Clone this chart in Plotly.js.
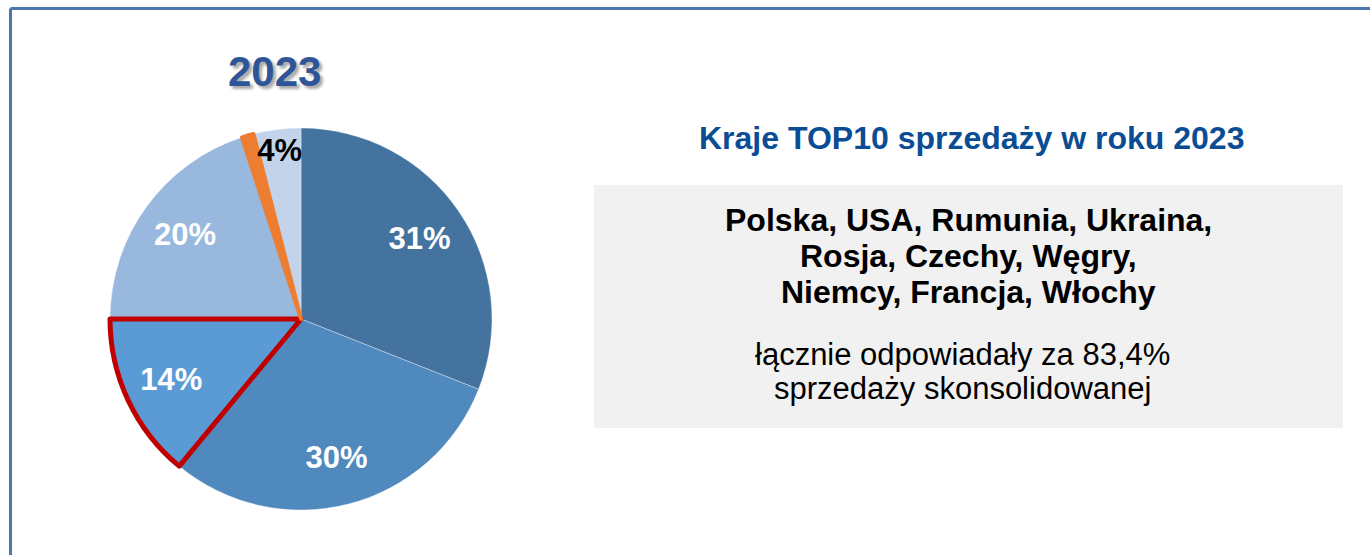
<!DOCTYPE html>
<html>
<head>
<meta charset="utf-8">
<script src="https://cdn.plot.ly/plotly-3.0.1.min.js"></script>
<style>html,body{margin:0;padding:0;background:#fff;}#chart{width:1370px;height:555px;}</style>
</head>
<body>
<div id="chart"></div>
<script>
// ---- data ----
var sliceNames = ["Kraj A", "Kraj B", "Kraj C", "Kraj D", "Kraj E", "Pozostałe"];
var sliceValues = [31, 30, 14, 20, 1, 4];
var sliceLabels = ["31%", "30%", "14%", "20%", "", "4%"];
var sliceColors = ["#44739f", "#4f89bd", "#5b9bd5", "#98b8de", "#ed7d31", "#c3d3ea"];
var labelColors = ["#ffffff", "#ffffff", "#ffffff", "#ffffff", "#ffffff", "#000000"];
var highlightColors = ["rgba(0,0,0,0)", "rgba(0,0,0,0)", "#c00000", "rgba(0,0,0,0)", "#ed7d31", "rgba(0,0,0,0)"];
var highlightWidths = [0, 0, 5, 0, 4, 0];

var yearTitle = "2023";
var sideTitle = "Kraje TOP10 sprzedaży w roku 2023";
var countryLines = ["Polska, USA, Rumunia, Ukraina,", "Rosja, Czechy, Węgry,", "Niemcy, Francja, Włochy"];
var summaryLines = ["łącznie odpowiadały za 83,4%", "sprzedaży skonsolidowanej"];

// ---- layout helpers ----
var W = 1370, H = 555;
function px(x) { return x / W; }
function py(y) { return 1 - y / H; }
var FONT = "Liberation Sans, Arial, sans-serif";
var pieDomain = {x: [px(110), px(492)], y: [py(510), py(128)]};
var clear = ["rgba(0,0,0,0)","rgba(0,0,0,0)","rgba(0,0,0,0)","rgba(0,0,0,0)","rgba(0,0,0,0)","rgba(0,0,0,0)"];

var base = {
  type: "pie",
  values: sliceValues,
  labels: sliceNames,
  sort: false,
  direction: "clockwise",
  rotation: 0,
  domain: pieDomain,
  marker: {colors: sliceColors, line: {color: "rgba(255,255,255,0.35)", width: 1}},
  textinfo: "none",
  hoverinfo: "none",
  showlegend: false
};

var overlay = {
  type: "pie",
  values: sliceValues,
  labels: sliceNames,
  sort: false,
  direction: "clockwise",
  rotation: 0,
  domain: pieDomain,
  marker: {colors: clear, line: {color: highlightColors, width: highlightWidths}},
  textinfo: "none",
  hoverinfo: "none",
  showlegend: false
};

// transparent ring that only carries the percentage labels (places them in the outer part of each slice)
var labelRing = {
  type: "pie",
  values: sliceValues,
  labels: sliceNames,
  text: sliceLabels,
  sort: false,
  direction: "clockwise",
  rotation: 0,
  hole: 0.5,
  domain: pieDomain,
  marker: {colors: clear, line: {width: 0}},
  textinfo: "text",
  textposition: "inside",
  insidetextorientation: "horizontal",
  textfont: {family: FONT, size: 31, weight: "bold", color: labelColors},
  hoverinfo: "none",
  showlegend: false
};

var annotations = [];
annotations.push({
  text: yearTitle, xref: "paper", yref: "paper", x: px(274), y: py(71),
  xanchor: "center", yanchor: "middle", showarrow: false,
  font: {family: FONT, size: 42, weight: "bold", color: "#2e5597", shadow: "3px 3px 3px rgba(0,0,0,0.35)"}
});
annotations.push({
  text: sideTitle, xref: "paper", yref: "paper", x: px(971), y: py(138),
  xanchor: "center", yanchor: "middle", showarrow: false,
  font: {family: FONT, size: 32, weight: "bold", color: "#0b4d94"}
});
var countryY = [220, 256, 292];
countryLines.forEach(function (t, i) {
  annotations.push({
    text: t, xref: "paper", yref: "paper", x: px(968), y: py(countryY[i]),
    xanchor: "center", yanchor: "middle", showarrow: false,
    font: {family: FONT, size: 32, weight: "bold", color: "#000000"}
  });
});
var summaryY = [354, 389];
summaryLines.forEach(function (t, i) {
  annotations.push({
    text: t, xref: "paper", yref: "paper", x: px(962), y: py(summaryY[i]),
    xanchor: "center", yanchor: "middle", showarrow: false,
    font: {family: FONT, size: 31, color: "#000000"}
  });
});

var shapes = [
  {type: "rect", xref: "paper", yref: "paper", x0: px(594), x1: px(1343), y0: py(428), y1: py(185),
   fillcolor: "#f1f1f1", line: {width: 0}, layer: "below"},
  {type: "line", xref: "paper", yref: "paper", x0: px(10.5), x1: px(1372), y0: py(8.5), y1: py(8.5),
   line: {color: "#4a78a8", width: 3}},
  {type: "line", xref: "paper", yref: "paper", x0: px(10.5), x1: px(10.5), y0: py(8.5), y1: py(560),
   line: {color: "#4a78a8", width: 3}}
];

var layout = {
  width: W, height: H,
  margin: {l: 0, r: 0, t: 0, b: 0},
  paper_bgcolor: "#ffffff",
  plot_bgcolor: "#ffffff",
  annotations: annotations,
  shapes: shapes,
  uniformtext: {mode: "show", minsize: 29},
  showlegend: false
};

Plotly.newPlot("chart", [base, overlay, labelRing], layout, {displayModeBar: false, staticPlot: true});
</script>
</body>
</html>
